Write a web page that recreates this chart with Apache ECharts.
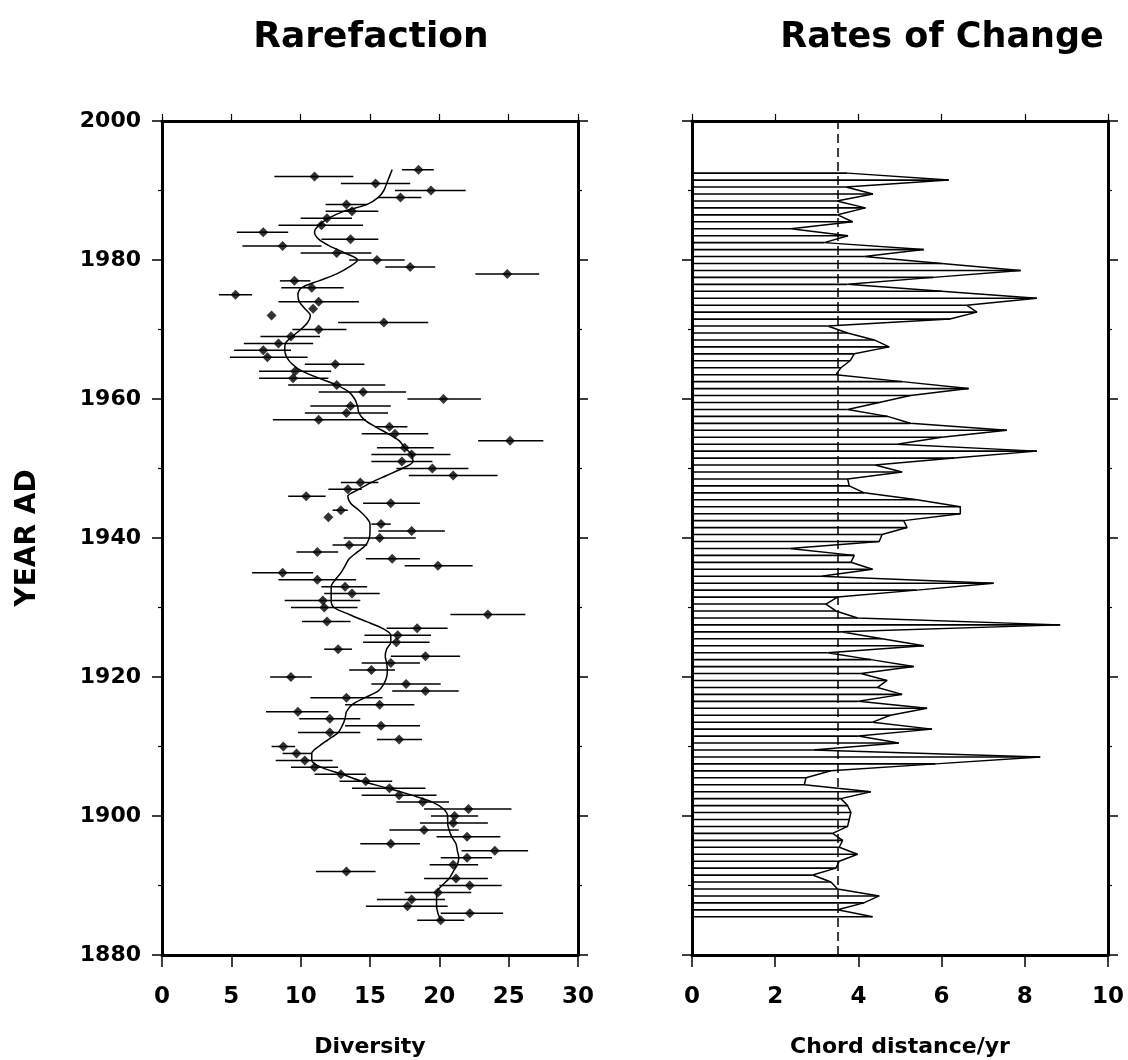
<!DOCTYPE html>
<html>
<head>
<meta charset="utf-8">
<script src="https://cdn.jsdelivr.net/npm/echarts@6/dist/echarts.min.js"></script>
<style>
html,body{margin:0;padding:0;background:#fff;}
#chart{width:1128px;height:1060px;}
</style>
</head>
<body>
<div id="chart"></div>
<script>
// ---------- DATA ----------
const divYears = [
1885,1886,1887,1888,1889,1890,1891,1892,1893,1894,
1895,1896,1897,1898,1899,1900,1901,1902,1903,1904,
1905,1906,1907,1908,1909,1910,1911,1912,1913,1914,
1915,1916,1917,1918,1919,1920,1921,1922,1923,1924,
1925,1926,1927,1928,1929,1930,1931,1932,1933,1934,
1935,1936,1937,1938,1939,1940,1941,1942,1943,1944,
1945,1946,1947,1948,1949,1950,1951,1952,1953,1954,
1955,1956,1957,1958,1959,1960,1961,1962,1963,1964,
1965,1966,1967,1968,1969,1970,1971,1972,1973,1974,
1975,1976,1977,1978,1979,1980,1981,1982,1983,1984,
1985,1986,1987,1988,1989,1990,1991,1992,1993];

const divValues = [
20.1,22.2,17.7,18.0,19.9,22.2,21.2,13.3,21.0,22.0,
24.0,16.5,22.0,18.9,21.0,21.1,22.1,18.8,17.1,16.4,
14.7,12.9,11.0,10.3,9.7,8.75,17.1,12.1,15.8,12.1,
9.8,15.7,13.3,19.0,17.6,9.3,15.1,16.5,19.0,12.7,
16.9,17.0,18.4,11.9,23.5,11.7,11.6,13.7,13.2,11.2,
8.7,19.9,16.6,11.2,13.5,15.7,18.0,15.8,12.0,12.9,
16.5,10.4,13.4,14.3,21.0,19.5,17.3,18.0,17.5,25.1,
16.8,16.4,11.3,13.3,13.6,20.3,14.5,12.6,9.45,9.6,
12.5,7.6,7.3,8.4,9.3,11.3,16.0,7.9,10.9,11.3,
5.3,10.8,9.55,24.9,17.9,15.5,12.6,8.7,13.6,7.3,
11.5,11.9,13.7,13.3,17.2,19.4,15.4,11.0,18.5];

const divLow = [
18.4,20.1,14.7,15.5,17.5,20.0,18.9,11.1,19.3,20.1,
21.6,14.3,19.8,16.4,18.6,19.4,18.9,16.9,14.4,13.7,
12.8,11.0,9.3,8.2,8.7,7.9,15.5,9.8,13.2,9.9,
7.5,13.2,10.7,16.6,15.1,7.8,13.5,14.4,16.5,11.7,
14.5,14.6,16.2,10.1,20.8,9.3,8.85,11.7,11.5,8.4,
6.5,17.5,14.7,9.7,12.3,13.1,15.6,15.1,12.0,12.3,
14.5,9.1,12.0,12.9,17.8,16.9,15.1,15.1,15.5,22.8,
14.4,15.4,8.0,10.3,10.7,17.7,11.3,9.1,7.0,7.0,
10.3,4.9,5.2,5.9,7.1,9.4,12.7,7.9,10.9,8.4,
4.1,8.6,8.5,22.6,16.1,13.5,10.0,5.8,11.5,5.4,
8.4,10.0,11.8,11.8,15.6,16.8,12.9,8.1,17.3];

const divHigh = [
21.8,24.6,20.6,20.4,22.3,24.5,23.5,15.4,22.8,23.8,
26.4,18.6,24.4,21.4,23.5,22.8,25.2,20.7,19.8,19.0,
16.6,14.7,12.7,12.3,10.8,9.6,18.75,14.3,18.6,14.3,
12.0,18.2,15.9,21.4,20.1,10.8,16.8,18.6,21.5,13.7,
19.3,19.4,20.6,13.6,26.2,14.1,14.3,15.7,14.8,14.0,
10.9,22.4,18.6,12.7,14.8,18.3,20.4,16.5,12.0,13.4,
18.6,11.8,14.4,15.6,24.2,22.1,19.5,20.8,19.6,27.5,
19.2,17.7,14.7,16.3,16.5,23.0,17.6,16.1,12.0,12.2,
14.6,10.5,9.3,10.9,11.4,13.3,19.2,7.9,10.9,14.2,
6.5,13.1,10.7,27.2,19.7,17.5,15.1,11.5,15.6,9.1,
14.5,13.7,15.6,14.8,18.7,21.9,17.9,13.8,19.6];

const divSmooth = [
20.1,19.9,19.8,19.8,19.8,20.2,20.7,21.0,21.3,21.4,
21.3,21.2,20.9,20.7,20.6,20.6,20.3,19.5,18.0,16.3,
14.4,13.0,11.5,10.8,10.8,11.3,12.0,12.7,13.0,13.2,
13.3,13.7,14.6,15.6,16.0,16.2,16.25,16.2,16.1,16.2,
16.5,16.5,15.9,14.7,13.5,12.4,12.2,12.2,12.2,12.5,
12.9,13.2,13.5,14.1,14.7,14.95,15.0,15.0,14.7,14.2,
13.6,13.4,14.2,15.1,16.2,17.3,18.1,18.0,17.5,17.1,
16.3,15.4,14.6,14.2,14.1,13.9,13.5,12.6,11.3,10.1,
9.4,9.0,8.85,8.9,9.4,10.0,10.5,10.7,10.3,9.9,
9.8,10.05,11.3,12.6,13.5,14.1,13.2,12.1,11.3,11.0,
11.3,12.0,13.1,14.8,15.6,16.0,16.2,16.4,16.6];

const rocYears = [
1885.5,1886.5,1887.5,1888.5,1889.5,1890.5,1891.5,1892.5,1893.5,1894.5,
1895.5,1896.5,1897.5,1898.5,1899.5,1900.5,1901.5,1902.5,1903.5,1904.5,
1905.5,1906.5,1907.5,1908.5,1909.5,1910.5,1911.5,1912.5,1913.5,1914.5,
1915.5,1916.5,1917.5,1918.5,1919.5,1920.5,1921.5,1922.5,1923.5,1924.5,
1925.5,1926.5,1927.5,1928.5,1929.5,1930.5,1931.5,1932.5,1933.5,1934.5,
1935.5,1936.5,1937.5,1938.5,1939.5,1940.5,1941.5,1942.5,1943.5,1944.5,
1945.5,1946.5,1947.5,1948.5,1949.5,1950.5,1951.5,1952.5,1953.5,1954.5,
1955.5,1956.5,1957.5,1958.5,1959.5,1960.5,1961.5,1962.5,1963.5,1964.5,
1965.5,1966.5,1967.5,1968.5,1969.5,1970.5,1971.5,1972.5,1973.5,1974.5,
1975.5,1976.5,1977.5,1978.5,1979.5,1980.5,1981.5,1982.5,1983.5,1984.5,
1985.5,1986.5,1987.5,1988.5,1989.5,1990.5,1991.5,1992.5];

const rocValues = [
4.34,3.5,4.13,4.5,3.5,3.34,2.9,3.46,3.54,3.98,
3.54,3.62,3.38,3.74,3.78,3.82,3.74,3.58,4.3,2.7,
2.74,3.34,5.85,8.37,2.9,4.97,4.0,5.77,4.34,4.77,
5.65,4.0,5.05,4.46,4.69,4.06,5.33,4.3,3.26,5.57,
4.57,3.58,8.85,3.98,3.46,3.22,3.5,5.4,7.25,3.1,
4.34,3.82,3.9,2.34,4.5,4.57,5.17,5.09,6.45,6.45,
5.41,4.14,3.78,3.74,5.05,4.4,6.3,8.29,4.93,6.0,
7.57,5.25,4.7,3.74,4.5,5.25,6.65,5.05,3.46,3.58,
3.8,3.9,4.74,4.38,3.74,3.26,6.2,6.85,6.6,8.29,
6.0,3.74,5.8,7.9,6.0,4.14,5.57,3.18,3.75,2.38,
3.86,3.5,4.17,3.48,4.35,3.7,6.17,3.74];

const rocThreshold = 3.5;

// ---------- CHART ----------
const FONT = 'DejaVu Sans';
const chart = echarts.init(document.getElementById('chart'), null, {renderer: 'canvas', width: 1128, height: 1060});

const pointData = divYears.map((y, i) => [divValues[i], y]);
const errData = divYears.map((y, i) => [divLow[i], divHigh[i], y]);
const smoothData = divYears.map((y, i) => [divSmooth[i], y]);
const rocData = rocYears.map((y, i) => [rocValues[i], y]);

function frameAxisLine() { return {show: true, onZero: false, lineStyle: {color: '#000', width: 3}}; }

function xAxisBottom(grid, min, max, interval, name) {
  return {
    gridIndex: grid, type: 'value', position: 'bottom', min: min, max: max, interval: interval,
    axisLine: frameAxisLine(),
    axisTick: {show: true, inside: false, length: 12, lineStyle: {color: '#000', width: 1.5}},
    axisLabel: {show: true, color: '#000', fontFamily: FONT, fontWeight: 'bold', fontSize: 23, margin: 31,
                formatter: function (v) { return String(v); }},
    splitLine: {show: false},
    name: name, nameLocation: 'middle', nameGap: 81,
    nameTextStyle: {color: '#000', fontFamily: FONT, fontWeight: 'bold', fontSize: 22}
  };
}
function xAxisTop(grid, min, max, interval) {
  return {
    gridIndex: grid, type: 'value', position: 'top', min: min, max: max, interval: interval,
    axisLine: frameAxisLine(),
    axisTick: {show: true, inside: false, length: 7, lineStyle: {color: '#000', width: 1.2}},
    axisLabel: {show: false}, splitLine: {show: false}
  };
}
function yAxisSide(grid, pos, labels) {
  const ax = {
    gridIndex: grid, type: 'value', position: pos, min: 1880, max: 2000, interval: 20,
    axisLine: frameAxisLine(),
    axisTick: {show: true, inside: false, length: 10, lineStyle: {color: '#000', width: 1.5}},
    minorTick: {show: true, splitNumber: 2, length: 4, lineStyle: {color: '#000', width: 1.2}},
    axisLabel: {show: labels, color: '#000', fontFamily: FONT, fontWeight: 'bold', fontSize: 22, margin: 21,
                formatter: function (v) { return String(v); }},
    splitLine: {show: false}, minorSplitLine: {show: false}
  };
  if (labels) {
    ax.name = 'YEAR AD';
    ax.nameLocation = 'middle';
    ax.nameGap = 120;
    ax.nameRotate = 90;
    ax.nameTextStyle = {color: '#000', fontFamily: FONT, fontWeight: 'bold', fontSize: 28};
  }
  return ax;
}

const option = {
  backgroundColor: '#fff',
  animation: false,
  title: [
    {text: 'Rarefaction', left: 366, top: 15, textAlign: 'center',
     textStyle: {color: '#000', fontFamily: FONT, fontWeight: 'bold', fontSize: 36}},
    {text: 'Rates of Change', left: 937, top: 15, textAlign: 'center',
     textStyle: {color: '#000', fontFamily: FONT, fontWeight: 'bold', fontSize: 35}}
  ],
  grid: [
    {left: 162, right: 550, top: 121, bottom: 105, containLabel: false, outerBoundsMode: 'none'},
    {left: 692, right: 20, top: 121, bottom: 105, containLabel: false, outerBoundsMode: 'none'}
  ],
  xAxis: [
    xAxisBottom(0, 0, 30, 5, 'Diversity'),
    xAxisTop(0, 0, 30, 5),
    xAxisBottom(1, 0, 10, 2, 'Chord distance/yr'),
    xAxisTop(1, 0, 10, 2)
  ],
  yAxis: [
    yAxisSide(0, 'left', true),
    yAxisSide(0, 'right', false),
    yAxisSide(1, 'left', false),
    yAxisSide(1, 'right', false)
  ],
  series: [
    {
      name: 'errors', type: 'custom', coordinateSystem: 'cartesian2d',
      xAxisIndex: 0, yAxisIndex: 0, silent: true,
      encode: {x: [0, 1], y: 2},
      data: errData,
      renderItem: function (params, api) {
        const lo = api.value(0), hi = api.value(1), y = api.value(2);
        if (lo === hi) return null;
        const p1 = api.coord([lo, y]), p2 = api.coord([hi, y]);
        return {type: 'line', shape: {x1: p1[0], y1: p1[1], x2: p2[0], y2: p2[1]},
                style: {stroke: '#000', lineWidth: 1.5}};
      }
    },
    {
      name: 'smooth', type: 'line', xAxisIndex: 0, yAxisIndex: 0,
      data: smoothData, showSymbol: false, smooth: 0.3,
      lineStyle: {color: '#000', width: 1.5}, z: 3
    },
    {
      name: 'diversity', type: 'scatter', xAxisIndex: 0, yAxisIndex: 0,
      data: pointData, symbol: 'diamond', symbolSize: 10,
      itemStyle: {color: '#000'}, z: 4
    },
    {
      name: 'rocBars', type: 'custom', coordinateSystem: 'cartesian2d',
      xAxisIndex: 2, yAxisIndex: 2, silent: true,
      encode: {x: 0, y: 1},
      data: rocData,
      renderItem: function (params, api) {
        const v = api.value(0), y = api.value(1);
        const p1 = api.coord([0, y]), p2 = api.coord([v, y]);
        return {type: 'line', shape: {x1: p1[0], y1: p1[1], x2: p2[0], y2: p2[1]},
                style: {stroke: '#000', lineWidth: 1.6}};
      }
    },
    {
      name: 'roc', type: 'line', xAxisIndex: 2, yAxisIndex: 2,
      data: rocData, showSymbol: false,
      lineStyle: {color: '#000', width: 1.5}, z: 3,
      markLine: {
        silent: true, symbol: ['none', 'none'], label: {show: false},
        lineStyle: {color: '#000', width: 1.5, type: [9, 5]},
        data: [{xAxis: rocThreshold}]
      }
    }
  ]
};
chart.setOption(option);
</script>
</body>
</html>
